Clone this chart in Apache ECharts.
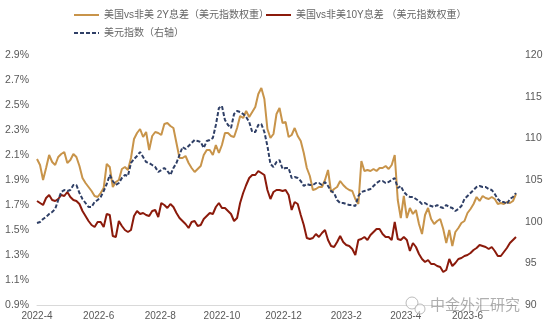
<!DOCTYPE html>
<html><head><meta charset="utf-8">
<script src="https://cdn.jsdelivr.net/npm/echarts@6/dist/echarts.min.js"></script>
<style>html,body{margin:0;padding:0;background:#fff}#c{width:550px;height:331px}</style>
</head><body><div id="c"></div>
<script>
const dates = [
'2022-04-01','2022-04-04','2022-04-07','2022-04-10','2022-04-13','2022-04-16','2022-04-19','2022-04-22','2022-04-25','2022-04-28',
'2022-05-01','2022-05-04','2022-05-07','2022-05-10','2022-05-13','2022-05-16','2022-05-19','2022-05-22','2022-05-25','2022-05-28','2022-05-31',
'2022-06-03','2022-06-06','2022-06-09','2022-06-12','2022-06-15','2022-06-18','2022-06-21','2022-06-24','2022-06-27','2022-06-30',
'2022-07-03','2022-07-06','2022-07-09','2022-07-12','2022-07-15','2022-07-18','2022-07-21','2022-07-24','2022-07-27','2022-07-30',
'2022-08-02','2022-08-05','2022-08-08','2022-08-11','2022-08-14','2022-08-17','2022-08-20','2022-08-23','2022-08-26','2022-08-29',
'2022-09-01','2022-09-04','2022-09-07','2022-09-10','2022-09-13','2022-09-16','2022-09-19','2022-09-22','2022-09-25','2022-09-28',
'2022-10-01','2022-10-04','2022-10-07','2022-10-10','2022-10-13','2022-10-16','2022-10-19','2022-10-22','2022-10-25','2022-10-28','2022-10-31',
'2022-11-03','2022-11-06','2022-11-09','2022-11-12','2022-11-15','2022-11-18','2022-11-21','2022-11-24','2022-11-27','2022-11-30',
'2022-12-03','2022-12-06','2022-12-09','2022-12-12','2022-12-15','2022-12-18','2022-12-21','2022-12-24','2022-12-27','2022-12-30',
'2023-01-02','2023-01-05','2023-01-08','2023-01-11','2023-01-14','2023-01-17','2023-01-20','2023-01-23','2023-01-26','2023-01-29',
'2023-02-01','2023-02-04','2023-02-07','2023-02-10','2023-02-13','2023-02-16','2023-02-19','2023-02-22','2023-02-25','2023-02-28',
'2023-03-03','2023-03-06','2023-03-09','2023-03-12','2023-03-15','2023-03-18','2023-03-21','2023-03-24','2023-03-27','2023-03-30',
'2023-04-02','2023-04-05','2023-04-08','2023-04-11','2023-04-14','2023-04-17','2023-04-20','2023-04-23','2023-04-26','2023-04-29',
'2023-05-02','2023-05-05','2023-05-08','2023-05-11','2023-05-14','2023-05-17','2023-05-20','2023-05-23','2023-05-26','2023-05-29',
'2023-06-01','2023-06-04','2023-06-07','2023-06-10','2023-06-13','2023-06-16','2023-06-19','2023-06-22','2023-06-25','2023-06-28',
'2023-07-01','2023-07-04','2023-07-07','2023-07-10','2023-07-13','2023-07-16','2023-07-19'
];
const spread2Y = [
2.068,2.020,1.900,1.996,2.100,2.044,2.020,2.084,2.108,2.124,
2.036,2.060,2.108,2.084,2.012,1.916,1.876,1.844,1.812,1.772,
1.764,1.796,1.836,2.028,2.004,1.844,1.884,1.900,1.988,2.004,
1.980,2.076,2.228,2.276,2.308,2.244,2.284,2.140,2.252,2.284,
2.276,2.260,2.348,2.356,2.332,2.316,2.196,2.076,2.076,2.092,
2.036,1.996,1.964,1.988,2.012,2.100,2.140,2.140,2.100,2.180,
2.116,2.180,2.276,2.276,2.252,2.244,2.316,2.412,2.396,2.452,
2.404,2.444,2.484,2.588,2.636,2.548,2.308,2.236,2.268,2.428,
2.476,2.356,2.364,2.244,2.260,2.316,2.252,2.212,2.116,1.996,
1.932,1.820,1.828,1.844,1.844,1.900,1.980,1.804,1.828,1.844,
1.892,1.860,1.836,1.820,1.812,1.748,1.708,2.052,1.972,1.980,
1.972,1.988,1.972,1.996,1.996,2.012,1.988,2.020,2.100,1.740,
1.596,1.772,1.596,1.676,1.628,1.660,1.548,1.468,1.620,1.676,
1.588,1.548,1.572,1.588,1.508,1.396,1.500,1.372,1.484,1.516,
1.556,1.572,1.636,1.668,1.708,1.764,1.732,1.772,1.756,1.748,
1.764,1.748,1.708,1.716,1.708,1.724,1.716,1.732,1.788
];
const spread10Y = [
1.732,1.716,1.700,1.756,1.780,1.740,1.732,1.748,1.780,1.772,
1.804,1.764,1.740,1.732,1.708,1.652,1.612,1.572,1.540,1.524,
1.564,1.564,1.524,1.628,1.620,1.452,1.444,1.572,1.532,1.500,
1.484,1.500,1.612,1.652,1.628,1.636,1.620,1.612,1.652,1.660,
1.604,1.716,1.700,1.676,1.708,1.684,1.636,1.596,1.572,1.548,
1.516,1.564,1.572,1.532,1.540,1.588,1.612,1.636,1.628,1.684,
1.716,1.676,1.676,1.652,1.628,1.572,1.596,1.716,1.796,1.860,
1.916,1.940,1.940,1.972,1.956,1.940,1.820,1.748,1.804,1.820,
1.820,1.812,1.820,1.780,1.660,1.724,1.708,1.620,1.540,1.436,
1.428,1.436,1.468,1.444,1.476,1.500,1.420,1.372,1.364,1.404,
1.452,1.404,1.380,1.372,1.348,1.300,1.420,1.428,1.444,1.420,
1.460,1.484,1.508,1.508,1.468,1.444,1.444,1.420,1.564,1.428,
1.420,1.444,1.420,1.332,1.396,1.364,1.308,1.268,1.244,1.260,
1.228,1.228,1.212,1.204,1.164,1.180,1.268,1.212,1.236,1.268,
1.276,1.292,1.300,1.316,1.340,1.356,1.380,1.372,1.364,1.348,
1.364,1.332,1.292,1.292,1.324,1.356,1.396,1.420,1.444
];
const dxy = [
99.84,99.96,100.32,100.56,100.92,101.16,101.52,102.60,103.56,103.80,
103.68,103.80,104.40,104.40,103.44,102.72,102.24,101.76,101.76,102.36,
102.60,102.96,103.68,104.52,105.60,104.88,104.40,104.64,105.24,105.60,
105.48,107.04,107.52,107.88,108.36,107.76,107.16,107.04,106.80,106.56,
105.96,106.20,106.44,106.08,105.60,106.44,107.04,108.00,108.96,108.72,
109.08,109.44,109.80,109.68,109.56,108.84,109.68,109.80,110.04,111.60,
113.64,113.88,112.20,111.60,111.24,112.92,113.28,113.16,112.92,112.56,
111.96,110.76,110.76,111.60,111.72,110.76,109.08,106.92,106.56,107.16,
107.40,106.32,106.44,106.44,105.24,105.36,105.24,104.88,104.28,104.52,
104.40,104.40,104.64,104.64,104.40,104.76,104.28,103.68,103.44,102.60,
102.24,102.24,102.12,102.00,102.00,101.88,103.08,103.56,103.68,103.80,
103.92,104.28,104.64,104.88,104.88,104.64,104.76,105.00,105.24,104.04,
104.28,103.56,103.20,102.96,102.96,102.72,102.48,102.12,102.24,102.00,
101.88,101.76,102.00,101.76,101.64,102.00,101.76,101.64,101.28,101.52,
101.88,102.72,103.08,103.44,103.80,104.16,104.28,104.16,104.16,103.92,
103.80,103.32,102.72,102.36,102.36,102.12,102.72,102.96,103.44
];
const xTickDates = ['2022-04-01','2022-06-01','2022-08-01','2022-10-01','2022-12-01','2023-02-01','2023-04-01','2023-06-01'];
const leftTicks = [0.9,1.1,1.3,1.5,1.7,1.9,2.1,2.3,2.5,2.7,2.9];
const rightTicks = [90,95,100,105,110,115,120];
const seriesNames = ['美国vs非美 2Y息差（美元指数权重）','美国vs非美10Y息差 （美元指数权重）','美元指数（右轴）'];
const watermark = '中金外汇研究';

const font = "'Liberation Sans', 'Noto Sans CJK SC', sans-serif";
const parse = s => { const p = s.split('-').map(Number); return Date.UTC(p[0], p[1] - 1, p[2]); };
const pair = arr => dates.map((d, i) => [parse(d), arr[i]]);
const chart = echarts.init(document.getElementById('c'), null, {renderer: 'canvas'});
const legendText = {fontSize: 10, color: '#666666', fontFamily: font};
const legendBase = {itemWidth: 25, itemHeight: 10, itemGap: 10, textStyle: legendText, itemStyle: {opacity: 0}, padding: 0};
chart.setOption({
  animation: false,
  textStyle: {fontFamily: font},
  legend: [
    Object.assign({data: [seriesNames[0]], left: 73, top: 10}, legendBase),
    Object.assign({data: [seriesNames[1]], left: 265, top: 10}, legendBase),
    Object.assign({data: [seriesNames[2]], left: 73, top: 28}, legendBase)
  ],
  grid: {left: 37, top: 55, width: 480, height: 250},
  xAxis: {
    type: 'value', min: parse('2022-04-01'), max: parse('2023-07-20'),
    axisLine: {lineStyle: {color: '#d9d9d9', width: 1}},
    axisTick: {show: false}, splitLine: {show: false},
    axisLabel: {
      customValues: xTickDates.map(parse),
      formatter: v => { const d = new Date(v); return d.getUTCFullYear() + '-' + (d.getUTCMonth() + 1); },
      color: '#595959', fontSize: 10, margin: 6, fontFamily: font
    }
  },
  yAxis: [
    {type: 'value', min: 0.9, max: 2.9, axisLine: {show: false}, axisTick: {show: false}, splitLine: {show: false},
     axisLabel: {customValues: leftTicks, formatter: v => v.toFixed(1) + '%', color: '#595959', fontSize: 10.5, margin: 8, fontFamily: font}},
    {type: 'value', position: 'right', min: 90, max: 120, axisLine: {show: false}, axisTick: {show: false}, splitLine: {show: false},
     axisLabel: {customValues: rightTicks, color: '#595959', fontSize: 10.5, margin: 8, fontFamily: font}}
  ],
  series: [
    {name: seriesNames[0], type: 'line', yAxisIndex: 0, data: pair(spread2Y), symbol: 'none', lineStyle: {color: '#C8944A', width: 2}, itemStyle: {color: '#C8944A'}},
    {name: seriesNames[1], type: 'line', yAxisIndex: 0, data: pair(spread10Y), symbol: 'none', lineStyle: {color: '#8B1A0B', width: 2}, itemStyle: {color: '#8B1A0B'}},
    {name: seriesNames[2], type: 'line', yAxisIndex: 1, data: pair(dxy), symbol: 'none', lineStyle: {color: '#2F3F66', width: 2, type: [4, 2]}, itemStyle: {color: '#2F3F66'}}
  ],
  graphic: [
    {type: 'circle', shape: {cx: 412, cy: 303, r: 6}, style: {fill: 'rgba(255,255,255,0.6)', stroke: 'rgba(160,160,160,0.7)', lineWidth: 1}, z: 100},
    {type: 'circle', shape: {cx: 420, cy: 309, r: 5}, style: {fill: 'rgba(255,255,255,0.6)', stroke: 'rgba(160,160,160,0.7)', lineWidth: 1}, z: 100},
    {type: 'text', left: 430, top: 297, z: 100, style: {text: watermark, fontSize: 15, fill: 'rgba(110,110,110,0.55)', fontFamily: "'Noto Sans CJK SC', sans-serif"}}
  ]
});
</script>
</body></html>
